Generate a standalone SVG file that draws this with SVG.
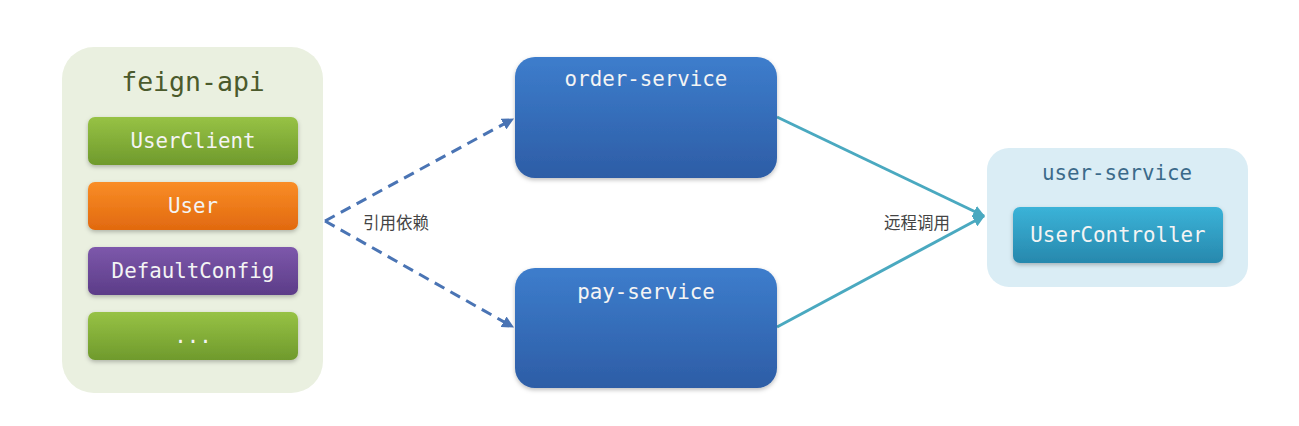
<svg xmlns="http://www.w3.org/2000/svg" width="1299" height="426" viewBox="0 0 1299 426">
<style>
.mono{font-family:"DejaVu Sans Mono","Liberation Mono",monospace;text-anchor:middle}
.w{fill:#f4f4f4;font-size:20.8px}
.cn{font-family:"Noto Sans CJK SC","Noto Sans",sans-serif;font-size:16.5px;fill:#444}
.dash{fill:none;stroke:#4a74b4;stroke-width:3;stroke-dasharray:11 7}
.teal{fill:none;stroke:#4aa9c0;stroke-width:3}
</style>
<defs>
<linearGradient id="gGreen" x1="0" y1="0" x2="0" y2="1"><stop offset="0" stop-color="#97c245"/><stop offset="1" stop-color="#6f9a2c"/></linearGradient>
<linearGradient id="gOrange" x1="0" y1="0" x2="0" y2="1"><stop offset="0" stop-color="#f98d26"/><stop offset="1" stop-color="#e1690f"/></linearGradient>
<linearGradient id="gPurple" x1="0" y1="0" x2="0" y2="1"><stop offset="0" stop-color="#7d58ab"/><stop offset="1" stop-color="#5c3c88"/></linearGradient>
<linearGradient id="gBlue" x1="0" y1="0" x2="0" y2="1"><stop offset="0" stop-color="#3d7dcc"/><stop offset="1" stop-color="#2d5da6"/></linearGradient>
<linearGradient id="gCyan" x1="0" y1="0" x2="0" y2="1"><stop offset="0" stop-color="#3bb3d8"/><stop offset="1" stop-color="#2788ad"/></linearGradient>
<filter id="sh" x="-10%" y="-20%" width="120%" height="150%"><feDropShadow dx="0" dy="2" stdDeviation="2" flood-color="#000" flood-opacity="0.25"/></filter>
<marker id="aBlue" viewBox="0 0 10 10" refX="9" refY="5" markerWidth="4" markerHeight="4" orient="auto" markerUnits="strokeWidth"><path d="M0,0 L10,5 L0,10 z" fill="#4a74b4"/></marker>
<marker id="aTeal" viewBox="0 0 10 10" refX="9" refY="5" markerWidth="4" markerHeight="4" orient="auto" markerUnits="strokeWidth"><path d="M0,0 L10,5 L0,10 z" fill="#4aa9c0"/></marker>
</defs>
<rect width="1299" height="426" fill="#ffffff"/>

<g id="connectors">
<path class="dash" d="M325,221 L513,119" marker-end="url(#aBlue)"/>
<path class="dash" d="M325,221 L513,327" marker-end="url(#aBlue)"/>
<path class="teal" d="M777,117 L984,216" marker-end="url(#aTeal)"/>
<path class="teal" d="M777,327 L984,216" marker-end="url(#aTeal)"/>
<text class="cn" x="363" y="229">引用依赖</text>
<text class="cn" x="884" y="229">远程调用</text>
</g>

<g id="feign-api">
<rect x="62" y="47" width="261" height="346" rx="32" fill="#eaf0e0"/>
<text class="mono" x="193" y="91" font-size="26.5" fill="#4b5a2c">feign-api</text>
</g>
<g id="UserClient">
<rect x="88" y="117" width="210" height="48" rx="7" fill="url(#gGreen)" filter="url(#sh)"/>
<text class="mono w" x="193" y="148">UserClient</text>
</g>
<g id="User">
<rect x="88" y="182" width="210" height="48" rx="7" fill="url(#gOrange)" filter="url(#sh)"/>
<text class="mono w" x="193" y="213">User</text>
</g>
<g id="DefaultConfig">
<rect x="88" y="247" width="210" height="48" rx="7" fill="url(#gPurple)" filter="url(#sh)"/>
<text class="mono w" x="193" y="278">DefaultConfig</text>
</g>
<g id="more">
<rect x="88" y="312" width="210" height="48" rx="7" fill="url(#gGreen)" filter="url(#sh)"/>
<text class="mono w" x="193" y="343">...</text>
</g>

<g id="order-service">
<rect x="515" y="57" width="262" height="121" rx="20" fill="url(#gBlue)" filter="url(#sh)"/>
<text class="mono w" x="646" y="86">order-service</text>
</g>
<g id="pay-service">
<rect x="515" y="268" width="262" height="120" rx="20" fill="url(#gBlue)" filter="url(#sh)"/>
<text class="mono w" x="646" y="299">pay-service</text>
</g>

<g id="user-service">
<rect x="987" y="148" width="261" height="139" rx="22" fill="#daedf5"/>
<text class="mono" x="1117" y="180" font-size="20.8" fill="#3b6a8a">user-service</text>
</g>
<g id="UserController">
<rect x="1013" y="207" width="210" height="56" rx="7" fill="url(#gCyan)" filter="url(#sh)"/>
<text class="mono w" x="1118" y="242">UserController</text>
</g>
</svg>
